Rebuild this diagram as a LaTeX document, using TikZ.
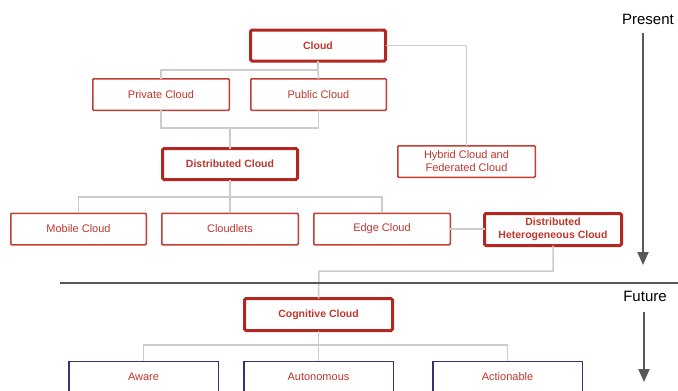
\documentclass[tikz,border=0pt]{standalone}
\usepackage{fontspec}
\setmainfont{Liberation Sans}
\usetikzlibrary{arrows.meta}
\definecolor{boxred}{RGB}{194,62,50}
\definecolor{thickred}{RGB}{178,40,32}
\definecolor{txtred}{RGB}{190,55,45}
\definecolor{conn}{RGB}{204,204,204}
\definecolor{navy}{RGB}{58,48,112}
\definecolor{arrgray}{RGB}{88,88,88}
\tikzset{
  thinbox/.style={draw=boxred, line width=1.5pt, rounded corners=1pt, inner sep=0pt, outer sep=0pt,
    minimum height=31.5pt, text=txtred, font=\fontsize{11}{13}\selectfont, align=center},
  thickbox/.style={draw=thickred, line width=3pt, rounded corners=1.5pt, inner sep=0pt, outer sep=0pt,
    minimum height=31pt, text=txtred, font=\fontsize{10.5}{13.5}\selectfont\bfseries, align=center},
  navybox/.style={draw=navy, line width=1.5pt, inner sep=0pt, outer sep=0pt,
    minimum width=149.5pt, minimum height=31.5pt, text=txtred, font=\fontsize{11}{13}\selectfont},
  link/.style={draw=conn, line width=1.5pt},
  timearrow/.style={draw=arrgray, line width=2pt, -{Triangle[width=11pt,length=13pt]}},
  timelabel/.style={font=\fontsize{15}{18}\selectfont, text=black, inner sep=0pt}
}
\begin{document}
\begin{tikzpicture}[x=1pt,y=-1pt]
\useasboundingbox (0,0) rectangle (678,391);
\fill[white] (0,0) rectangle (678,391);

% boxes
\node[thickbox, minimum width=135pt] (cloud) at (318,45.5) {Cloud};
\node[thinbox, minimum width=136.5pt] (priv) at (161,94.5) {Private Cloud};
\node[thinbox, minimum width=135.5pt] (pub) at (318.5,94.5) {Public Cloud};
\node[thinbox, minimum width=137.5pt] (hyb) at (466.5,161.5) {Hybrid Cloud and\\Federated Cloud};
\node[thickbox, minimum width=135pt] (dist) at (230,164) {Distributed Cloud};
\node[thinbox, minimum width=135.5pt] (mob) at (78.5,229) {Mobile Cloud};
\node[thinbox, minimum width=136.5pt] (clet) at (230,229) {Cloudlets};
\node[thinbox, minimum width=136.5pt] (edge) at (382,229) {Edge Cloud};
\node[thickbox, minimum width=137pt, minimum height=32pt] (dhc) at (553,229.5) {Distributed\\Heterogeneous Cloud};
\node[thickbox, minimum width=148pt, minimum height=32pt] (cog) at (318.5,314.5) {Cognitive Cloud};
\begin{scope}
\clip (0,0) rectangle (678,391);
\node[navybox] (aware) at (143.5,377) {Aware};
\node[navybox] (auto) at (318.5,377) {Autonomous};
\node[navybox] (act) at (507.5,377) {Actionable};
\end{scope}

% connectors
\coordinate (c1) at (318,70);
\draw[link] (cloud.south) -- (c1) -| (priv.north);
\draw[link] (c1) -- (pub.north);
\draw[link] (priv.south) |- (318.5,128) -- (pub.south);
\draw[link] (230,128) -- (dist.north);
\draw[link] (cloud.east) -| (hyb.north);
\coordinate (c2) at (230,197);
\draw[link] (dist.south) -- (c2);
\draw[link] (mob.north) |- (c2) -| (edge.north);
\draw[link] (c2) -- (clet.north);
\draw[link] (edge.east) -- (edge.east -| dhc.west);
\draw[link] (dhc.south) |- (319,271) -- (cog.north);
\coordinate (c3) at (318.5,345);
\draw[link] (cog.south) -- (c3);
\draw[link] (aware.north) |- (c3) -| (act.north);
\draw[link] (c3) -- (auto.north);

% timeline
\coordinate (sepL) at (60,283);
\coordinate (sepR) at (678,283);
\draw[draw=arrgray, line width=2pt] (sepL) -- (sepR);
\node[timelabel] (present) at (648,19) {Present};
\node[timelabel] (future) at (645,296) {Future};
\coordinate (pa) at (643,33);
\coordinate (pb) at (643,265);
\draw[timearrow] (pa) -- (pb);
\coordinate (fa) at (644,312);
\coordinate (fb) at (644,382);
\draw[timearrow] (fa) -- (fb);
\end{tikzpicture}
\end{document}
